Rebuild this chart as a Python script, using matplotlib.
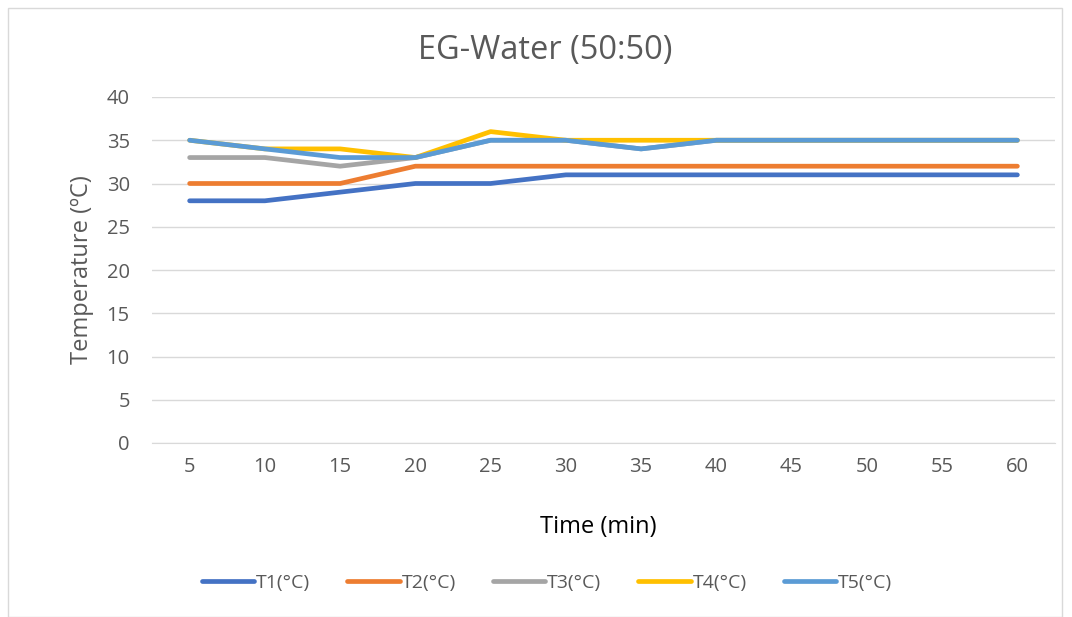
import matplotlib
matplotlib.use("Agg")
import matplotlib.pyplot as plt
from matplotlib.patches import Rectangle

time_min = [5, 10, 15, 20, 25, 30, 35, 40, 45, 50, 55, 60]
T1 = [28, 28, 29, 30, 30, 31, 31, 31, 31, 31, 31, 31]
T2 = [30, 30, 30, 32, 32, 32, 32, 32, 32, 32, 32, 32]
T3 = [33, 33, 32, 33, 35, 35, 34, 35, 35, 35, 35, 35]
T4 = [35, 34, 34, 33, 36, 35, 35, 35, 35, 35, 35, 35]
T5 = [35, 34, 33, 33, 35, 35, 34, 35, 35, 35, 35, 35]
series_names = ["T1(°C)", "T2(°C)", "T3(°C)", "T4(°C)", "T5(°C)"]
colors = ["#4472C4", "#ED7D31", "#A5A5A5", "#FFC000", "#5B9BD5"]

plt.rcParams['font.family'] = ['Open Sans', 'DejaVu Sans']
fig = plt.figure(figsize=(10.72, 6.17), dpi=100)
W, H = 1072, 617
ax = fig.add_axes([152 / W, 1 - 443 / H, (1055 - 152) / W, (443 - 97) / H])

fig.patches.append(Rectangle((8 / W, 0), (1062 - 8) / W, 1 - 8 / H, transform=fig.transFigure,
                             fill=False, edgecolor="#D9D9D9", linewidth=1))

idx = list(range(len(time_min)))
for data, name, c in zip([T1, T2, T3, T4, T5], series_names, colors):
    ax.plot(idx, data, color=c, linewidth=3.4, label=name, solid_capstyle='round', solid_joinstyle='round')

ax.set_xlim(-0.5, len(time_min) - 0.5)
ax.set_ylim(0, 40)
ax.set_yticks(range(0, 41, 5))
ax.set_xticks(idx)
ax.set_xticklabels([str(t) for t in time_min])
ax.grid(axis='y', color="#D9D9D9", linewidth=1)
ax.set_axisbelow(True)
for s in ["top", "right", "left"]:
    ax.spines[s].set_visible(False)
ax.spines["bottom"].set_color("#D9D9D9")
ax.tick_params(length=0, labelsize=14.5, colors="#595959")
ax.tick_params(axis='x', pad=10)
ax.tick_params(axis='y', pad=16)

fig.text(598 / W, 1 - 527 / H, "Time (min)", ha='center', va='center', fontsize=17, color="#000000")
fig.text(82 / W, 1 - 270 / H, "Temperature (ºC)", ha='center', va='center', rotation=90,
         fontsize=17, color="#595959")
fig.text(545 / W, 1 - 50 / H, "EG-Water (50:50)", ha='center', va='center', fontsize=23.5, color="#595959")

handles, labels = ax.get_legend_handles_labels()
fig.legend(handles, labels, loc='center', bbox_to_anchor=(547 / W, 1 - 583 / H), ncol=5, frameon=False,
           fontsize=14, labelcolor="#595959", handlelength=2.7, handletextpad=0.1, columnspacing=1.9)

fig.savefig("out.png", dpi=100)
